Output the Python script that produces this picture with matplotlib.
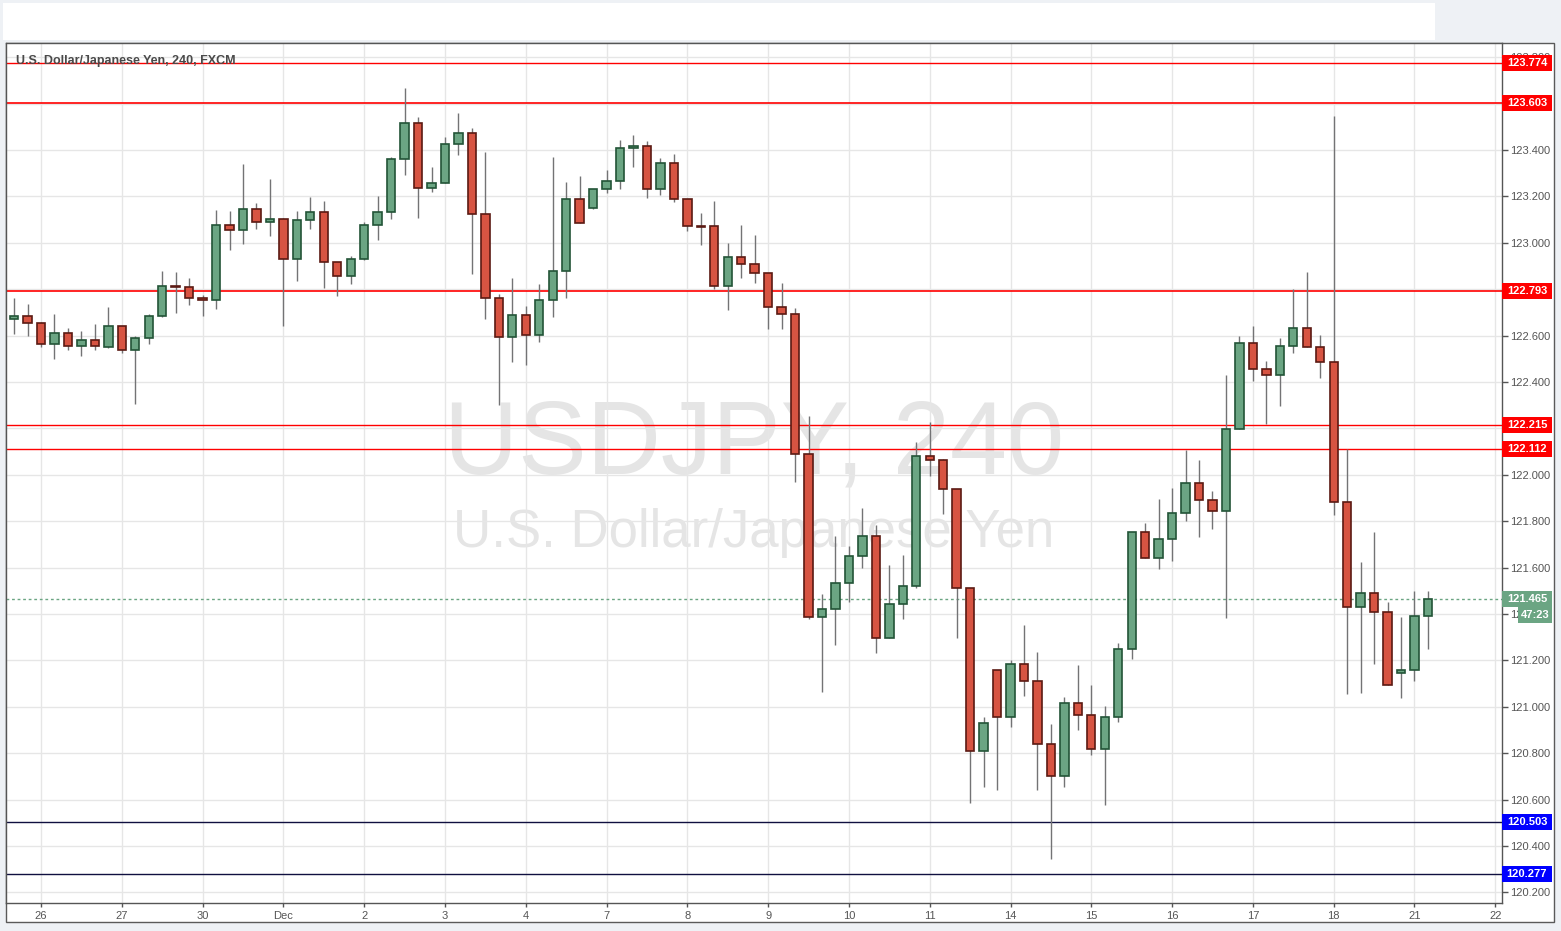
import matplotlib
matplotlib.use("Agg")
import matplotlib.pyplot as plt
import matplotlib.transforms as mtransforms
from matplotlib.patches import Rectangle
import numpy as np

# ---------------- data ----------------
opens = [122.671, 122.683, 122.653, 122.563, 122.610, 122.554, 122.580, 122.552, 122.640, 122.537,
         122.588, 122.683, 122.812, 122.808, 122.761, 122.752, 123.075, 123.054, 123.144, 123.088,
         123.101, 122.929, 123.097, 123.131, 122.916, 122.856, 122.929, 123.075, 123.131, 123.360,
         123.515, 123.235, 123.256, 123.425, 123.472, 123.123, 122.761, 122.593, 122.688, 122.601,
         122.752, 122.877, 123.188, 123.149, 123.231, 123.265, 123.407, 123.416, 123.231, 123.343,
         123.188, 123.073, 123.071, 122.812, 122.938, 122.907, 122.869, 122.722, 122.692, 122.088,
         121.386, 121.420, 121.532, 121.649, 121.735, 121.295, 121.442, 121.519, 122.080, 122.063,
         121.938, 121.511, 120.808, 121.157, 120.955, 121.183, 121.110, 120.838, 120.700, 121.015,
         120.963, 120.817, 120.955, 121.248, 121.752, 121.640, 121.722, 121.834, 121.963, 121.890,
         121.843, 122.196, 122.567, 122.455, 122.429, 122.554, 122.631, 122.550, 122.488, 121.884,
         121.431, 121.491, 121.409, 121.147, 121.159, 121.389]
highs = [122.762, 122.736, 122.659, 122.693, 122.633, 122.620, 122.650, 122.723, 122.640, 122.597,
         122.693, 122.878, 122.874, 122.848, 122.775, 123.141, 123.137, 123.340, 123.172, 123.275,
         123.107, 123.137, 123.197, 123.180, 122.916, 122.942, 123.088, 123.202, 123.369, 123.666,
         123.541, 123.325, 123.455, 123.558, 123.494, 123.390, 122.778, 122.847, 122.726, 122.821,
         123.369, 123.261, 123.287, 123.231, 123.314, 123.443, 123.465, 123.439, 123.364, 123.383,
         123.188, 123.127, 123.179, 122.998, 123.075, 123.032, 122.869, 122.827, 122.718, 122.253,
         121.486, 121.736, 121.693, 121.857, 121.782, 121.610, 121.653, 122.140, 122.226, 122.067,
         121.938, 121.511, 120.955, 121.157, 121.202, 121.353, 121.236, 120.925, 121.041, 121.179,
         121.093, 121.002, 121.274, 121.752, 121.791, 121.894, 121.943, 122.107, 122.064, 121.930,
         122.429, 122.598, 122.641, 122.491, 122.588, 122.801, 122.874, 122.602, 123.548, 122.110,
         121.622, 121.753, 121.451, 121.386, 121.501, 121.501]
lows = [122.608, 122.600, 122.552, 122.500, 122.539, 122.513, 122.539, 122.548, 122.526, 122.306,
        122.565, 122.680, 122.699, 122.733, 122.686, 122.716, 122.970, 122.996, 123.061, 123.031,
        122.643, 122.837, 123.061, 122.806, 122.772, 122.824, 122.925, 123.013, 123.101, 123.291,
        123.106, 123.218, 123.256, 123.377, 122.864, 122.670, 122.300, 122.488, 122.475, 122.571,
        122.679, 122.761, 123.084, 123.144, 123.216, 123.233, 123.325, 123.194, 123.205, 123.175,
        123.050, 122.989, 122.802, 122.712, 122.850, 122.828, 122.630, 122.630, 121.970, 121.380,
        121.065, 121.268, 121.453, 121.600, 121.233, 121.295, 121.377, 121.511, 121.994, 121.832,
        121.298, 120.584, 120.656, 120.643, 120.912, 121.048, 120.643, 120.345, 120.656, 120.901,
        120.791, 120.578, 120.936, 121.207, 121.640, 121.593, 121.630, 121.802, 121.733, 121.768,
        121.384, 122.196, 122.406, 122.218, 122.298, 122.524, 122.550, 122.418, 121.827, 121.055,
        121.060, 121.184, 121.095, 121.038, 121.110, 121.250]
closes = [122.683, 122.653, 122.563, 122.610, 122.554, 122.580, 122.554, 122.640, 122.537, 122.588,
          122.683, 122.812, 122.808, 122.761, 122.752, 123.075, 123.054, 123.144, 123.088, 123.101,
          122.929, 123.097, 123.131, 122.916, 122.856, 122.929, 123.075, 123.131, 123.360, 123.515,
          123.235, 123.256, 123.425, 123.472, 123.123, 122.761, 122.593, 122.688, 122.601, 122.752,
          122.877, 123.188, 123.084, 123.231, 123.265, 123.407, 123.416, 123.231, 123.343, 123.188,
          123.071, 123.071, 122.812, 122.938, 122.907, 122.869, 122.722, 122.692, 122.088, 121.386,
          121.420, 121.532, 121.649, 121.735, 121.295, 121.442, 121.519, 122.080, 122.063, 121.938,
          121.511, 120.808, 120.929, 120.955, 121.183, 121.110, 120.838, 120.700, 121.015, 120.963,
          120.817, 120.955, 121.248, 121.752, 121.640, 121.722, 121.834, 121.963, 121.890, 121.843,
          122.196, 122.567, 122.455, 122.429, 122.554, 122.631, 122.550, 122.488, 121.884, 121.431,
          121.491, 121.409, 121.095, 121.159, 121.389, 121.465]

date_labels = ["26", "27", "30", "Dec", "2", "3", "4", "7", "8", "9", "10", "11",
               "14", "15", "16", "17", "18", "21", "22"]
date_first_candle = 2          # candle index where first labelled day starts
candles_per_day = 6

red_levels = [123.774, 123.603, 122.793, 122.215, 122.112]
blue_levels = [120.503, 120.277]
last_price = 121.465
countdown = "47:23"

y_ticks = [120.2, 120.4, 120.6, 120.8, 121.0, 121.2, 121.4, 121.6, 121.8,
           122.0, 122.2, 122.4, 122.6, 122.8, 123.0, 123.2, 123.4, 123.6, 123.8]

title = "U.S. Dollar/Japanese Yen, 240, FXCM"
wm_big = "USDJPY, 240"
wm_small = "U.S. Dollar/Japanese Yen"

# ---------------- figure ----------------
W, H = 1561, 931
plt.rcParams['font.family'] = ['Liberation Sans', 'DejaVu Sans']
fig = plt.figure(figsize=(W / 100, H / 100), dpi=100)
fig.patch.set_facecolor('#eef1f5')

def fx(px):
    return px / W

def fy(py):
    return 1 - py / H

# top white bar
fig.patches.append(Rectangle((fx(3), fy(40)), fx(1435 - 3), (40 - 3) / H,
                             transform=fig.transFigure, facecolor='white', edgecolor='none', zorder=-2))
# chart frame
fig.patches.append(Rectangle((fx(6), fy(922)), fx(1554 - 6), (922 - 43) / H,
                             transform=fig.transFigure, facecolor='white', edgecolor='#5a5a5a',
                             linewidth=1.0, zorder=-2))

ax_left, ax_right, ax_top, ax_bot = 6, 1502, 43, 903
ax = fig.add_axes([fx(ax_left), fy(ax_bot), fx(ax_right - ax_left), (ax_bot - ax_top) / H])
ax.set_zorder(1)
ax.set_facecolor('white')

n = len(opens)
x = np.arange(n)
o = np.array(opens); h = np.array(highs); l = np.array(lows); c = np.array(closes)
up = c >= o

ax.set_xlim(-0.6, 110.5)
ax.set_ylim(120.154, 123.861)

# grid
ax.set_axisbelow(True)
xt = [date_first_candle + candles_per_day * i for i in range(len(date_labels))]
ax.set_xticks(xt)
ax.set_xticklabels(date_labels)
ax.set_yticks(y_ticks)
ax.set_yticklabels([f"{v:.3f}" for v in y_ticks])
ax.grid(True, color='#e6e6e6', linewidth=1.0)
ax.yaxis.tick_right()
ax.tick_params(axis='y', which='both', length=4, width=1, color='#555555',
               labelcolor='#555555', labelsize=8, pad=2)
ax.tick_params(axis='x', which='both', length=3, width=1, color='#555555',
               labelcolor='#555555', labelsize=8, pad=3)
for s in ax.spines.values():
    s.set_color('#555555')
    s.set_linewidth(1.0)

# watermark
ax.text(0.5, 0.530, wm_big, transform=ax.transAxes, ha='center', va='center',
        fontsize=74, color='#e5e5e5', zorder=0.5)
ax.text(0.5, 0.430, wm_small, transform=ax.transAxes, ha='center', va='center',
        fontsize=38, color='#e5e5e5', zorder=0.5)

# title
ax.text(0.0067, 0.979, title, transform=ax.transAxes, ha='left', va='center',
        fontsize=9, color='#4a4a4a', fontweight='bold', zorder=6)

# horizontal levels
lw_map = {123.774: 1.0, 123.603: 1.2, 122.793: 1.2, 122.215: 1.0, 122.112: 1.0}
for lv in red_levels:
    ax.axhline(lv, color='#ff0000', linewidth=lw_map.get(lv, 1.0), zorder=1.8)
for lv in blue_levels:
    ax.axhline(lv, color='#101040', linewidth=1.0, zorder=1.8)
ax.axhline(last_price, color='#6ba583', linewidth=1.0, linestyle=(0, (2, 2)), zorder=1.8)

# candles
wick_color = '#737375'
ax.vlines(x, l, h, color=wick_color, linewidth=1.0, zorder=3)
body_w = 0.62
heights = c - o
heights = np.where(np.abs(heights) < 0.004, np.sign(heights + 1e-9) * 0.004, heights)
ax.bar(x[up], heights[up], bottom=o[up], width=body_w, color='#6ba583',
       edgecolor='#225437', linewidth=1.2, zorder=4)
ax.bar(x[~up], heights[~up], bottom=o[~up], width=body_w, color='#d75442',
       edgecolor='#5b1a13', linewidth=1.2, zorder=4)

# right-axis labels
blend = mtransforms.blended_transform_factory(ax.transAxes, ax.transData)
axw = ax_right - ax_left
lab_w = 50 / axw
lab_h = 16 / 232.0

def price_label(level, text, fc, yc=None, x0=1.0, w=lab_w):
    yc = level if yc is None else yc
    r = Rectangle((x0, yc - lab_h / 2), w, lab_h, transform=blend, facecolor=fc,
                  edgecolor='none', clip_on=False, zorder=10)
    ax.add_patch(r)
    ax.text(x0 + w / 2, yc, text, transform=blend, ha='center', va='center',
            fontsize=8, color='white', fontweight='bold', clip_on=False, zorder=11)

for lv in red_levels:
    price_label(lv, f"{lv:.3f}", '#ff0000')
for lv in blue_levels:
    price_label(lv, f"{lv:.3f}", '#0000ff')
price_label(last_price, f"{last_price:.3f}", '#6ba583')
price_label(last_price, countdown, '#6ba583', yc=last_price - 16 / 232.0,
            x0=1.0 + 16 / axw, w=34 / axw)

fig.savefig("out.png", dpi=100, facecolor=fig.get_facecolor())
